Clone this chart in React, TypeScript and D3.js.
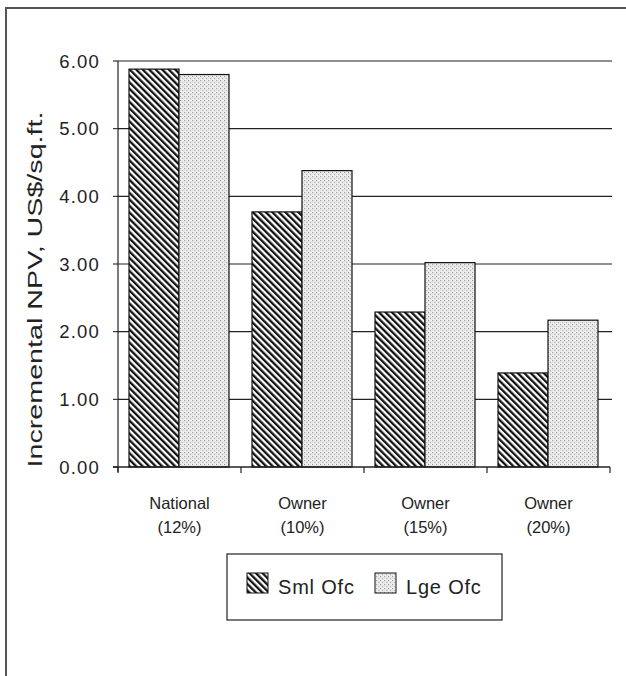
import React from "react";
import * as d3 from "d3";

// Incremental NPV by discount-rate perspective, two office sizes
const categories = [["National", "(12%)"], ["Owner", "(10%)"], ["Owner", "(15%)"], ["Owner", "(20%)"]];
const seriesNames = ["Sml Ofc", "Lge Ofc"];
const smlOfc = [5.88, 3.77, 2.29, 1.39];
const lgeOfc = [5.8, 4.38, 3.02, 2.17];
const yTicks = [0, 1, 2, 3, 4, 5, 6];
const yTitle = "Incremental NPV, US$/sq.ft.";

const W = 626;
const H = 676;
const X0 = 118;
const X1 = 610;
const Y0 = 467;
const Y1 = 61;
const FONT = "'Liberation Sans', Arial, sans-serif";

export default function App() {
  const y = d3.scaleLinear().domain([0, 6]).range([Y0, Y1]);
  const x = d3.scaleBand<number>().domain(d3.range(categories.length)).range([X0, X1]).padding(0);
  const inner = d3.scaleBand<number>().domain([0, 1]).range([11, x.bandwidth() - 12]).padding(0);
  const series = [smlOfc, lgeOfc];
  const fills = ["url(#hatch)", "url(#stipple)"];

  return (
    <svg width={W} height={H} style={{ position: "absolute", left: 0, top: 0, background: "#fff" }}>
      <defs>
        <pattern id="hatch" patternUnits="userSpaceOnUse" width="4.6" height="4.6" patternTransform="rotate(-45)">
          <rect width="4.6" height="4.6" fill="#fff" />
          <rect x="0" y="0" width="2.3" height="4.6" fill="#111" />
        </pattern>
        <pattern id="stipple" patternUnits="userSpaceOnUse" width="4" height="4">
          <rect width="4" height="4" fill="#e6e6e6" />
          <rect x="0" y="0" width="1" height="1" fill="#9a9a9a" />
          <rect x="2" y="2" width="1" height="1" fill="#b4b4b4" />
          <rect x="3" y="0" width="1" height="1" fill="#fafafa" />
          <rect x="1" y="3" width="1" height="1" fill="#fafafa" />
        </pattern>
      </defs>

      {/* page frame */}
      <rect x={6} y={8} width={W + 10} height={H + 10} fill="none" stroke="#555" strokeWidth={2} />

      {/* gridlines and y ticks */}
      {yTicks.map((t) => (
        <g key={t}>
          {t > 0 && <line x1={X0} x2={X1 + 2} y1={y(t)} y2={y(t)} stroke="#222" strokeWidth={1.1} />}
          <line x1={X0 - 5} x2={X0} y1={y(t)} y2={y(t)} stroke="#222" strokeWidth={1.1} />
          <text x={100} y={y(t) + 6.5} textAnchor="end" fontFamily={FONT} fontSize={18.5} letterSpacing={1.2} fill="#222">
            {t.toFixed(2)}
          </text>
        </g>
      ))}

      {/* bars */}
      {categories.map((c, i) =>
        series.map((s, k) => (
          <rect
            key={`${i}-${k}`}
            x={(x(i) as number) + (inner(k) as number)}
            y={y(s[i])}
            width={inner.bandwidth()}
            height={y(0) - y(s[i])}
            fill={fills[k]}
            stroke="#111"
            strokeWidth={1.2}
          />
        ))
      )}

      {/* axes */}
      <line x1={X0} x2={X0} y1={Y1} y2={Y0 + 5} stroke="#222" strokeWidth={1.2} />
      <line x1={X0 - 5} x2={X1} y1={Y0} y2={Y0} stroke="#222" strokeWidth={1.5} />
      {d3.range(categories.length + 1).map((i) => {
        const xx = X0 + i * x.bandwidth();
        return <line key={i} x1={xx} x2={xx} y1={Y0} y2={Y0 + 6} stroke="#222" strokeWidth={1.2} />;
      })}

      {/* category labels */}
      {categories.map((c, i) => (
        <text key={i} textAnchor="middle" fontFamily={FONT} fontSize={16.5} fill="#222">
          <tspan x={(x(i) as number) + x.bandwidth() / 2} y={509}>{c[0]}</tspan>
          <tspan x={(x(i) as number) + x.bandwidth() / 2} y={533}>{c[1]}</tspan>
        </text>
      ))}

      {/* y title */}
      <text
        transform={`translate(42,${(Y0 + 112) / 2}) rotate(-90)`}
        textAnchor="middle"
        fontFamily={FONT}
        fontSize={21}
        fill="#222"
        textLength={356}
        lengthAdjust="spacingAndGlyphs"
      >
        {yTitle}
      </text>

      {/* legend */}
      <rect x={227} y={554} width={275} height={66} fill="#fff" stroke="#222" strokeWidth={1.2} />
      {seriesNames.map((n, k) => {
        const lx = k === 0 ? 247 : 375;
        return (
          <g key={n}>
            <rect x={lx} y={573} width={21} height={20} fill={fills[k]} stroke="#111" strokeWidth={1} />
            <text x={lx + 31} y={594} fontFamily={FONT} fontSize={20} letterSpacing={0.8} fill="#222">
              {n}
            </text>
          </g>
        );
      })}
    </svg>
  );
}
